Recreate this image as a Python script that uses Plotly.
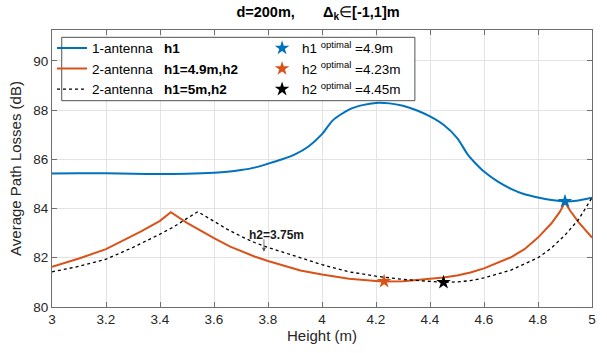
import plotly.graph_objects as go

# ---------------- data ----------------
x_one = [3.0, 3.1, 3.2, 3.3, 3.4, 3.5, 3.6, 3.65, 3.7, 3.75, 3.8, 3.85, 3.9, 3.95, 4.0,
         4.04, 4.1, 4.15, 4.2, 4.25, 4.3, 4.35, 4.4, 4.45, 4.5, 4.54, 4.57, 4.6, 4.65, 4.7,
         4.75, 4.8, 4.85, 4.9, 4.95, 5.0]
y_one = [85.42, 85.43, 85.43, 85.41, 85.40, 85.41, 85.45, 85.49, 85.56, 85.66, 85.82, 85.99,
         86.2, 86.52, 87.02, 87.58, 88.02, 88.2, 88.29, 88.27, 88.17, 87.99, 87.74,
         87.4, 86.87, 86.19, 85.82, 85.5, 85.1, 84.8, 84.58, 84.45, 84.35, 84.29, 84.33, 84.44]

x_two49 = [3.0, 3.1, 3.2, 3.3, 3.33, 3.4, 3.44, 3.5, 3.55, 3.6, 3.66, 3.7, 3.75, 3.8, 3.86,
           3.92, 4.0, 4.1, 4.2, 4.23, 4.3, 4.4, 4.45, 4.5, 4.55, 4.6, 4.65, 4.7, 4.75, 4.8,
           4.85, 4.88, 4.9, 4.92, 4.95, 5.0]
y_two49 = [81.63, 81.97, 82.35, 82.88, 83.07, 83.5, 83.85, 83.42, 83.1, 82.8, 82.45, 82.27,
           82.05, 81.87, 81.66, 81.48, 81.32, 81.15, 81.06, 81.04, 81.05, 81.13, 81.2, 81.28,
           81.4, 81.57, 81.78, 82.02, 82.35, 82.82, 83.4, 83.85, 84.25, 83.9, 83.45, 82.82]

x_two5 = [3.0, 3.1, 3.2, 3.3, 3.4, 3.45, 3.5, 3.54, 3.6, 3.65, 3.7, 3.75, 3.8, 3.85, 3.9,
          4.0, 4.1, 4.2, 4.3, 4.4, 4.45, 4.5, 4.55, 4.6, 4.7, 4.8, 4.85, 4.9, 4.95, 5.0]
y_two5 = [81.43, 81.65, 81.94, 82.42, 82.96, 83.25, 83.6, 83.87, 83.48, 83.15, 82.87, 82.62,
          82.42, 82.25, 82.08, 81.72, 81.43, 81.25, 81.12, 81.03, 81.0, 81.02, 81.07, 81.18,
          81.5, 82.0, 82.4, 82.92, 83.55, 84.44]

opt_x = [4.9, 4.23, 4.45]
opt_y = [84.29, 81.04, 81.0]
opt_names = ["h1 <sup>optimal</sup> =4.9m", "h2 <sup>optimal</sup> =4.23m", "h2 <sup>optimal</sup> =4.45m"]

x_ticks = [3, 3.2, 3.4, 3.6, 3.8, 4, 4.2, 4.4, 4.6, 4.8, 5]
x_tick_text = ["3", "3.2", "3.4", "3.6", "3.8", "4", "4.2", "4.4", "4.6", "4.8", "5"]
y_ticks = [80, 82, 84, 86, 88, 90]

note_x, note_y = 3.785, 82.24

# ---------------- figure ----------------
BLUE = "#0072BD"
ORANGE = "#D95319"
FONT = "Liberation Sans, Arial, Helvetica, sans-serif"
sp = "\u00a0" * 3

fig = go.Figure()
fig.add_trace(go.Scatter(x=x_one, y=y_one, mode="lines",
                         line=dict(color=BLUE, width=2, shape="spline", smoothing=0.7),
                         name="1-antenna" + sp + "<b>h1</b>", legend="legend"))
fig.add_trace(go.Scatter(x=x_two49, y=y_two49, mode="lines", line=dict(color=ORANGE, width=2),
                         name="2-antenna" + sp + "<b>h1=4.9m,h2</b>", legend="legend"))
fig.add_trace(go.Scatter(x=x_two5, y=y_two5, mode="lines",
                         line=dict(color="black", width=1.3, dash="dot"),
                         name="2-antenna" + sp + "<b>h1=5m,h2</b>", legend="legend"))
for xv, yv, nm, col in zip(opt_x, opt_y, opt_names, [BLUE, ORANGE, "black"]):
    fig.add_trace(go.Scatter(x=[xv], y=[yv], mode="markers",
                             marker=dict(symbol="star", size=11, color=col, line=dict(width=0)),
                             name=nm, legend="legend2"))

axis_common = dict(
    showgrid=True, gridcolor="#e3e3e3", gridwidth=1,
    showline=True, linecolor="#6e6e6e", linewidth=1, mirror="ticks",
    ticks="inside", ticklen=5, tickcolor="#6e6e6e",
    tickfont=dict(family=FONT, size=13.5, color="#262626"),
    zeroline=False,
)
fig.update_xaxes(range=[3, 5], tickvals=x_ticks, ticktext=x_tick_text,
                 title=dict(text="Height (m)", font=dict(family=FONT, size=15, color="#262626"),
                            standoff=0),
                 **axis_common)
fig.update_yaxes(range=[80, 91.25], tickvals=y_ticks,
                 title=dict(text="Average Path Losses (dB)",
                            font=dict(family=FONT, size=15, color="#262626"), standoff=8),
                 **axis_common)

legend_common = dict(
    bgcolor="rgba(0,0,0,0)", borderwidth=0, font=dict(family=FONT, size=13.5, color="black"),
    xanchor="left", yanchor="top", orientation="v", tracegroupgap=0, itemwidth=30,
)
fig.update_layout(
    width=607, height=353, autosize=False,
    margin=dict(l=52, r=15, t=30, b=46),
    plot_bgcolor="white", paper_bgcolor="white",
    font=dict(family=FONT, color="black"),
    title=dict(text="<b>d=200m," + "\u00a0" * 7 + "Δ<sub>k</sub></b>∈<b>[-1,1]m</b>",
               x=0.4926, xanchor="center", xref="paper",
               y=1 - 12 / 353, yanchor="middle", yref="container",
               font=dict(family=FONT, size=14.5, color="black")),
    legend=dict(x=0.0, y=0.99, **legend_common),
    legend2=dict(x=0.389, y=0.99, **legend_common),
    showlegend=True,
)

# legend frame (opaque box)
fig.add_shape(type="rect", xref="paper", yref="paper", x0=0.018, x1=0.672, y0=0.7448, y1=0.9736,
              line=dict(color="#262626", width=0.8), fillcolor="white", layer="above")

fig.add_annotation(x=3.832, y=82.93, xref="x", yref="y", text="<b>h2=3.75m</b>",
                   showarrow=False, font=dict(family=FONT, size=12, color="#1a1a1a"))
fig.add_annotation(x=note_x, y=note_y, xref="x", yref="y", text="", showarrow=True,
                   ax=0, ay=-14, arrowhead=2, arrowsize=1, arrowwidth=0.8, arrowcolor="#555")

fig.write_html("out.html", config={"displayModeBar": False},
               post_script="document.body.style.margin='0';document.body.style.padding='0';")
